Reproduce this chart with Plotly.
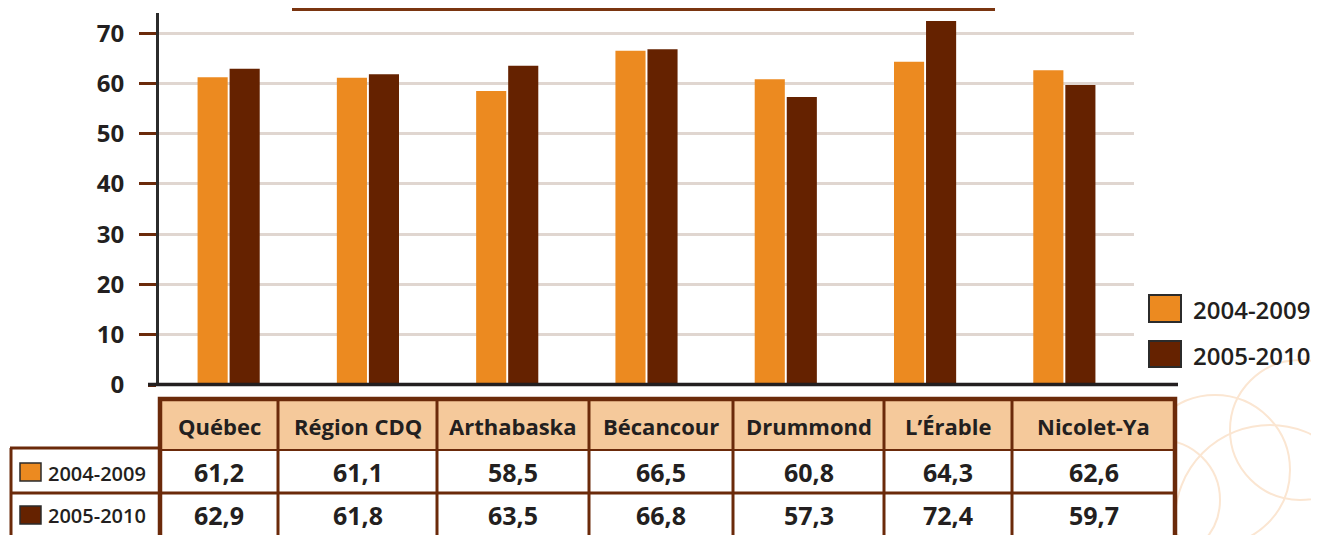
import plotly.graph_objects as go

# ---- data ----
categories = ["Québec", "Région CDQ", "Arthabaska", "Bécancour", "Drummond", "L’Érable", "Nicolet-Ya"]
series_names = ["2004-2009", "2005-2010"]
values_2004_2009 = [61.2, 61.1, 58.5, 66.5, 60.8, 64.3, 62.6]
values_2005_2010 = [62.9, 61.8, 63.5, 66.8, 57.3, 72.4, 59.7]
y_ticks = [0, 10, 20, 30, 40, 50, 60, 70]

# ---- style ----
ORANGE = "#ec8a20"
DARK = "#652200"
BROWN = "#6b2a0a"
TXT = "#231f20"
HEADER_FILL = "#f5c99b"
GRID = "#e0d6d0"
FONT = "Open Sans"

W, H = 1319, 535
OFF = 8  # page body margin offset
# plot area in screen pixels
SL, SR, ST, SB = 159, 1134, 13, 385
L, R, T, B = SL - OFF, SR - OFF, ST - OFF, SB - OFF


def px(x):
    return (x - OFF - L) / (R - L)


def py(y):
    return (B - (y - OFF)) / (B - T)


fig = go.Figure()
fig.add_trace(go.Bar(x=categories, y=values_2004_2009, name=series_names[0],
                     marker=dict(color=ORANGE, line=dict(width=0))))
fig.add_trace(go.Bar(x=categories, y=values_2005_2010, name=series_names[1],
                     marker=dict(color=DARK, line=dict(width=0))))

shapes = []
annotations = []

# hide the tick mark at zero (reference has none there)
shapes.append(dict(type="rect", xref="paper", yref="paper", x0=px(137), x1=px(148),
                   y0=py(388), y1=py(381), fillcolor="white", line=dict(width=0)))
# baseline
shapes.append(dict(type="line", xref="paper", yref="paper", x0=px(148), x1=px(1178),
                   y0=py(384.5), y1=py(384.5), line=dict(color="#231f20", width=3.5)))
# top decorative line
shapes.append(dict(type="line", xref="paper", yref="paper", x0=px(292), x1=px(995),
                   y0=py(9.5), y1=py(9.5), line=dict(color="#7a3510", width=3)))

# faint decorative circles (bottom right)
for cx, cy, r in [(1215, 470, 75), (1270, 520, 95), (1160, 500, 60), (1300, 430, 70)]:
    shapes.append(dict(type="circle", xref="paper", yref="paper", layer="below",
                       x0=px(cx - r), x1=px(cx + r), y0=py(cy + r), y1=py(cy - r),
                       line=dict(color="#fbe6d2", width=2)))

# ---- table ----
col_edges = [160, 278, 437, 589, 733, 884, 1012, 1175]
y_head_top, y_head_bot, y_row_sep, y_bottom = 399, 450, 493, 545

shapes.append(dict(type="rect", xref="paper", yref="paper",
                   x0=px(col_edges[0]), x1=px(col_edges[-1]), y0=py(y_head_bot), y1=py(y_head_top),
                   fillcolor=HEADER_FILL, line=dict(width=0)))
shapes.append(dict(type="rect", xref="paper", yref="paper",
                   x0=px(10), x1=px(col_edges[-1]), y0=py(y_bottom), y1=py(y_head_bot),
                   fillcolor="white", line=dict(width=0)))
shapes.append(dict(type="line", xref="paper", yref="paper", x0=px(col_edges[0]), x1=px(col_edges[-1]),
                   y0=py(y_head_bot), y1=py(y_head_bot), line=dict(color=BROWN, width=2)))
shapes.append(dict(type="line", xref="paper", yref="paper", x0=px(10), x1=px(col_edges[-1]),
                   y0=py(y_row_sep), y1=py(y_row_sep), line=dict(color=BROWN, width=3)))
shapes.append(dict(type="line", xref="paper", yref="paper", x0=px(10), x1=px(col_edges[0]),
                   y0=py(448), y1=py(448), line=dict(color=BROWN, width=3)))
shapes.append(dict(type="line", xref="paper", yref="paper", x0=px(11), x1=px(11),
                   y0=py(y_bottom), y1=py(448), line=dict(color=BROWN, width=3)))
for xe in col_edges[1:-1]:
    shapes.append(dict(type="line", xref="paper", yref="paper", x0=px(xe), x1=px(xe),
                       y0=py(y_bottom), y1=py(y_head_top), line=dict(color=BROWN, width=3)))
shapes.append(dict(type="rect", xref="paper", yref="paper",
                   x0=px(col_edges[0]), x1=px(col_edges[-1]), y0=py(y_bottom), y1=py(y_head_top),
                   fillcolor="rgba(0,0,0,0)", line=dict(color=BROWN, width=4.5)))

rows = [values_2004_2009, values_2005_2010]
row_centers = [472, 515]
for i, cat in enumerate(categories):
    cx = (col_edges[i] + col_edges[i + 1]) / 2
    annotations.append(dict(xref="paper", yref="paper", x=px(cx), y=py(426), text="<b>%s</b>" % cat,
                            showarrow=False, xanchor="center", yanchor="middle",
                            font=dict(family=FONT, size=22, color=TXT)))
    for vals, yc in zip(rows, row_centers):
        annotations.append(dict(xref="paper", yref="paper", x=px(cx), y=py(yc),
                                text="<b>%s</b>" % ("%.1f" % vals[i]).replace(".", ","),
                                showarrow=False, xanchor="center", yanchor="middle",
                                font=dict(family=FONT, size=25, color=TXT)))

for name, col, yc in zip(series_names, [ORANGE, DARK], row_centers):
    shapes.append(dict(type="rect", xref="paper", yref="paper", x0=px(20), x1=px(41),
                       y0=py(yc + 9), y1=py(yc - 9), fillcolor=col,
                       line=dict(color="#2b2b2b", width=1.5)))
    annotations.append(dict(xref="paper", yref="paper", x=px(46), y=py(yc + 1), text=name,
                            showarrow=False, xanchor="left", yanchor="middle",
                            font=dict(family=FONT, size=20, color=TXT, weight=600)))

for name, col, (y0, y1) in zip(series_names, [ORANGE, DARK], [(295, 322), (341, 367)]):
    shapes.append(dict(type="rect", xref="paper", yref="paper", x0=px(1149), x1=px(1181),
                       y0=py(y1), y1=py(y0), fillcolor=col, line=dict(color="#2b2b2b", width=2)))
    annotations.append(dict(xref="paper", yref="paper", x=px(1191), y=py((y0 + y1) / 2 + 1), text=name,
                            showarrow=False, xanchor="left", yanchor="middle",
                            font=dict(family=FONT, size=24, color=TXT, weight=600)))

fig.update_layout(
    width=W, height=H,
    margin=dict(l=L, r=W - R, t=T, b=H - B, pad=0),
    paper_bgcolor="white", plot_bgcolor="white",
    barmode="group", bargap=0.54, bargroupgap=0.06,
    showlegend=False,
    shapes=shapes, annotations=annotations,
    font=dict(family=FONT, color=TXT),
)
fig.update_xaxes(showticklabels=False, showgrid=False, zeroline=False, showline=False, ticks="")
fig.update_yaxes(range=[0, 74], tickvals=y_ticks, ticktext=["<b>%d</b>" % v for v in y_ticks],
                 showgrid=True, gridcolor=GRID, gridwidth=3, zeroline=False,
                 showline=True, linecolor="#2b2b2b", linewidth=3,
                 ticks="outside", ticklen=17, tickwidth=3, tickcolor=BROWN,
                 ticklabelstandoff=10,
                 tickfont=dict(family=FONT, size=24, color=TXT))

fig.write_html("out.html")
